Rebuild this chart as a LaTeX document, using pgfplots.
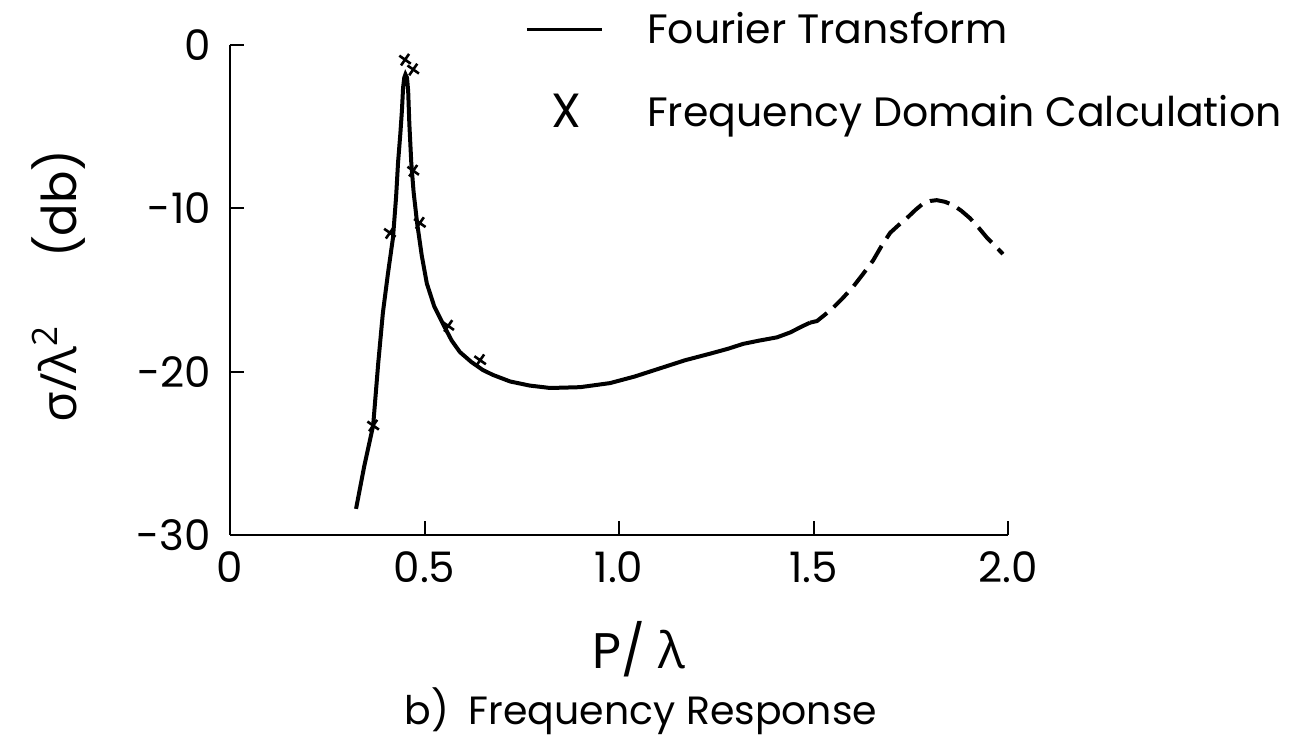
\documentclass[border=0pt]{standalone}
\usepackage{fontspec}
\setmainfont{Poppins}
\newfontfamily\greek{Open Sans}
\usepackage{pgfplots}
\pgfplotsset{compat=1.18}
\begin{document}
\begin{tikzpicture}[x=1pt,y=1pt]
\useasboundingbox (0,0) rectangle (648,369);
\begin{axis}[
  at={(115pt,101.5pt)}, anchor=south west,
  scale only axis, width=389pt, height=245pt,
  xmin=0, xmax=2, ymin=-30, ymax=0,
  axis lines*=left, axis line style={-, line width=1pt},
  xtick={0,0.5,1,1.5,2}, xticklabels={0,0.5,1.0,1.5,2.0},
  ytick={-30,-20,-10,0}, yticklabels={-30,-20,-10,0},
  tick align=inside, major tick length=7pt,
  tick style={line width=1pt, black},
  /pgf/number format/assume math mode=true,
  tick label style={font=\fontsize{21}{24}\selectfont},
  xticklabel style={yshift=-5pt},
  yticklabel style={xshift=-6pt},
  xlabel={P/ {\greek λ}},
  xlabel style={font=\fontsize{25}{28}\selectfont, yshift=-12pt, xshift=10pt},
  ylabel={{\fontsize{25}{30}\selectfont\greek σ/λ\textsuperscript{2}}\hspace{34pt}(db)},
  ylabel style={font=\fontsize{24}{28}\selectfont, xshift=2pt, yshift=19pt},
  clip=false,
  legend style={at={(0.379,1.075)}, anchor=north west, draw=none, fill=none,
    inner sep=0pt, row sep=20pt, font=\fontsize{20.5}{24}\selectfont,
    cells={anchor=west}, nodes={inner xsep=0pt},
    /tikz/every odd column/.append style={column sep=22pt}},
  legend cell align=left,
]
\addplot[black, line width=2pt,
  legend image code/.code={\draw[line width=1.5pt] (0pt,0pt) -- (37.5pt,0pt);}] coordinates {
(0.324,-28.4) (0.345,-25.8) (0.368,-23.3) (0.381,-19.5) (0.393,-16.4)
(0.406,-14.0) (0.419,-11.8) (0.427,-9.3) (0.432,-7.2) (0.438,-5.4) (0.442,-4.0)
(0.445,-2.6) (0.448,-2.0) (0.451,-1.8) (0.455,-2.0) (0.458,-2.8)
(0.461,-4.8) (0.466,-7.2) (0.472,-9.0) (0.481,-10.9) (0.493,-12.9)
(0.506,-14.6) (0.525,-16.0) (0.548,-17.1) (0.570,-18.1) (0.591,-18.8)
(0.620,-19.4) (0.650,-19.9) (0.676,-20.2) (0.720,-20.6) (0.770,-20.85)
(0.823,-21.0) (0.900,-20.95) (0.977,-20.7) (1.040,-20.3) (1.105,-19.8)
(1.170,-19.3) (1.234,-18.9) (1.280,-18.6) (1.319,-18.3) (1.360,-18.1)
(1.406,-17.9) (1.440,-17.6) (1.473,-17.2) (1.491,-17.0)
};
\addlegendentry{Fourier Transform}
\addplot[black, line width=2pt, dash pattern=on 10pt off 4.5pt, forget plot] coordinates {
(1.491,-17.0) (1.509,-16.9) (1.530,-16.5) (1.550,-16.1) (1.575,-15.5)
(1.602,-14.8) (1.628,-14.0) (1.653,-13.2) (1.675,-12.3) (1.697,-11.5)
(1.720,-11.0) (1.740,-10.6) (1.762,-10.1) (1.782,-9.7) (1.800,-9.55)
(1.817,-9.5) (1.838,-9.6) (1.859,-9.8) (1.880,-10.15) (1.902,-10.6)
(1.925,-11.2) (1.946,-11.8) (1.967,-12.3) (1.987,-12.8)
};
\addplot[only marks, mark=x, mark size=3.5pt, mark options={line width=1.3pt, rotate=10}, black,
  legend image code/.code={\node[anchor=center, inner sep=0pt, font=\fontsize{24}{26}\selectfont] at (20pt,0pt) {X};}]
  coordinates {
(0.450,-0.9) (0.471,-1.5) (0.471,-7.7) (0.488,-10.9) (0.411,-11.5)
(0.561,-17.2) (0.643,-19.3) (0.368,-23.3)
};
\addlegendentry{Frequency Domain Calculation}
\node[font=\fontsize{19.7}{23}\selectfont, anchor=center] at (rel axis cs:0.528,-0.36) {b)\hspace{10pt}Frequency Response};
\end{axis}
\end{tikzpicture}
\end{document}
